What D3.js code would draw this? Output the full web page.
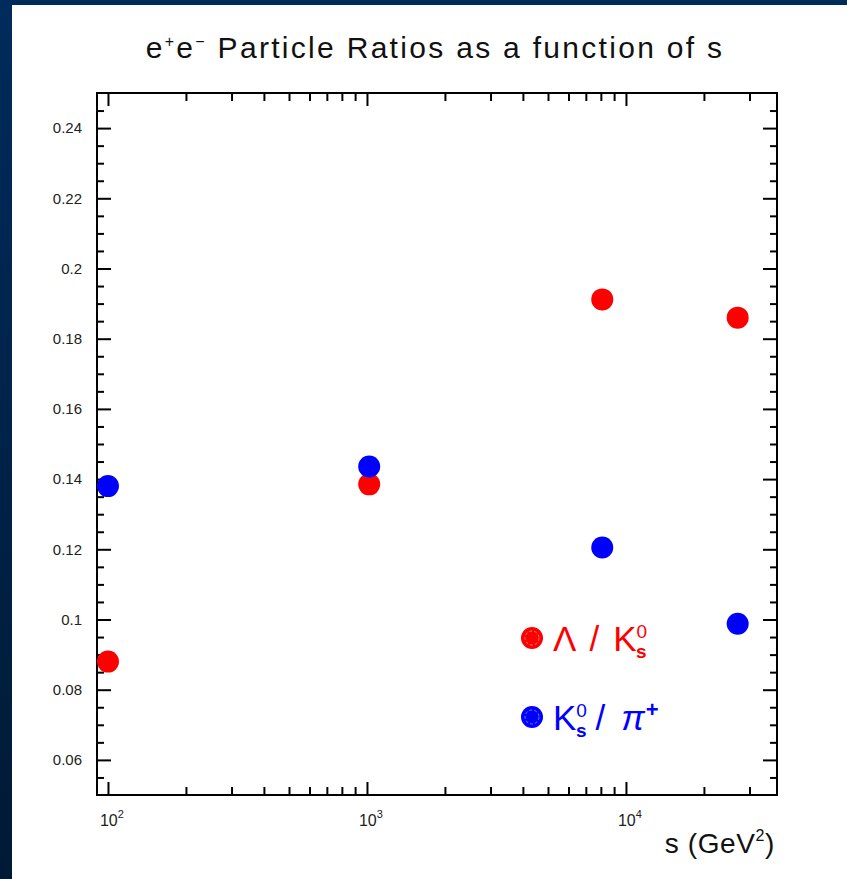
<!DOCTYPE html>
<html>
<head>
<meta charset="utf-8">
<script src="https://d3js.org/d3.v7.min.js"></script>
<style>
  body { margin: 0; background: white; }
  svg { display: block; }
</style>
</head>
<body>
<div id="bigdiv"></div>
<script>
// s values (GeV^2) and the two particle ratios
const energies = [100, 1020, 8100, 27000]
const lambdaOverK0 = [0.088, 0.1385, 0.1912, 0.186]
const k0OverPi = [0.138, 0.1436, 0.1205, 0.0988]

const yTicks = [0.06, 0.08, 0.1, 0.12, 0.14, 0.16, 0.18, 0.2, 0.22, 0.24]
const yTickLabels = ['0.06', '0.08', '0.1', '0.12', '0.14', '0.16', '0.18', '0.2', '0.22', '0.24']
const xMajor = [100, 1000, 10000]
const xMajorExp = ['2', '3', '4']

const W = 847, H = 879
const frame = { left: 97, right: 777, top: 93, bottom: 795 }
const FONT = '"Liberation Sans", Arial, sans-serif'

let svg = d3.select('div#bigdiv').append('svg')
    .attr('width', W).attr('height', H)

// dark blue slide border
let defs = svg.append('defs')
let grad = defs.append('linearGradient').attr('id', 'edgegrad')
    .attr('x1', 0).attr('y1', 0).attr('x2', 0).attr('y2', 1)
grad.append('stop').attr('offset', '0%').attr('stop-color', '#002b5c')
grad.append('stop').attr('offset', '100%').attr('stop-color', '#001a35')

svg.append('rect').attr('x', 0).attr('y', 0).attr('width', W).attr('height', H).attr('fill', 'white')
svg.append('rect').attr('x', 0).attr('y', 0).attr('width', W).attr('height', 5).attr('fill', '#002a5a')
svg.append('rect').attr('x', 0).attr('y', 0).attr('width', 12).attr('height', H).attr('fill', 'url(#edgegrad)')

let x = d3.scaleLog().domain([90.7, 38300]).range([frame.left, frame.right])
let y = d3.scaleLinear().domain([0.05, 0.25]).range([frame.bottom, frame.top])

// minor ticks
let xMinor = []
for (let d = 100; d <= 10000; d *= 10) {
    for (let m = 2; m <= 9; m++) {
        if (d * m < 38300) xMinor.push(d * m)
    }
}
let yMinor = []
for (let v = 0.055; v < 0.25; v += 0.005) {
    let r = Math.round(v * 1000) / 1000
    if (Math.round(r * 1000) % 20 !== 0) yMinor.push(r)
}

let axesg = svg.append('g').attr('id', 'axesg')

function styleAxis(g) {
    g.select('.domain').remove()
    g.selectAll('.tick line').attr('stroke', 'black').attr('stroke-width', 2)
}

// left axis
axesg.append('g').attr('transform', 'translate(' + frame.left + ',0)')
    .call(d3.axisLeft(y).tickValues(yMinor).tickSize(-7).tickFormat(''))
    .call(styleAxis)
axesg.append('g').attr('transform', 'translate(' + frame.left + ',0)')
    .call(d3.axisLeft(y).tickValues(yTicks).tickSize(-14).tickPadding(15)
        .tickFormat((d, i) => yTickLabels[i]))
    .call(styleAxis)
    .call(g => g.selectAll('.tick text')
        .style('font-size', '15px').style('font-family', FONT).attr('fill', '#222'))

// right axis
axesg.append('g').attr('transform', 'translate(' + frame.right + ',0)')
    .call(d3.axisRight(y).tickValues(yMinor).tickSize(-7).tickFormat(''))
    .call(styleAxis)
axesg.append('g').attr('transform', 'translate(' + frame.right + ',0)')
    .call(d3.axisRight(y).tickValues(yTicks).tickSize(-14).tickFormat(''))
    .call(styleAxis)

// bottom axis
axesg.append('g').attr('transform', 'translate(0,' + frame.bottom + ')')
    .call(d3.axisBottom(x).tickValues(xMinor).tickSize(-8).tickFormat(''))
    .call(styleAxis)
axesg.append('g').attr('transform', 'translate(0,' + frame.bottom + ')')
    .call(d3.axisBottom(x).tickValues(xMajor).tickSize(-13).tickFormat(''))
    .call(styleAxis)

// top axis
axesg.append('g').attr('transform', 'translate(0,' + frame.top + ')')
    .call(d3.axisTop(x).tickValues(xMinor).tickSize(-8).tickFormat(''))
    .call(styleAxis)
axesg.append('g').attr('transform', 'translate(0,' + frame.top + ')')
    .call(d3.axisTop(x).tickValues(xMajor).tickSize(-13).tickFormat(''))
    .call(styleAxis)

// x tick labels 10^n
let xlab = axesg.selectAll('text.xlab')
    .data(xMajor)
    .enter()
    .append('text')
    .attr('class', 'xlab')
    .attr('x', d => x(d) - 8)
    .attr('y', 826)
    .style('font-family', FONT)
    .style('font-size', '16px')
    .attr('fill', '#222')
xlab.append('tspan').text('10')
xlab.append('tspan').attr('dy', -8).style('font-size', '11px').text((d, i) => xMajorExp[i])

// frame
svg.append('rect')
    .attr('x', frame.left).attr('y', frame.top)
    .attr('width', frame.right - frame.left).attr('height', frame.bottom - frame.top)
    .attr('fill', 'none').attr('stroke', 'black').attr('stroke-width', 2)

// title
let title = svg.append('text')
    .attr('x', 435).attr('y', 58)
    .attr('text-anchor', 'middle')
    .style('font-family', FONT)
    .style('font-size', '30px')
    .style('letter-spacing', '2.3px')
    .attr('fill', '#111')
title.append('tspan').text('e')
title.append('tspan').attr('dy', -11).style('font-size', '16px').text('+')
title.append('tspan').attr('dy', 11).text('e')
title.append('tspan').attr('dy', -11).style('font-size', '16px').text('\u2212')
title.append('tspan').attr('dy', 11).text(' Particle Ratios as a function of s')

// axis title
let xtitle = svg.append('text')
    .attr('x', 775).attr('y', 853)
    .attr('text-anchor', 'end')
    .style('font-family', FONT)
    .style('font-size', '28px')
    .style('letter-spacing', '0.6px')
    .attr('fill', '#111')
xtitle.append('tspan').text('s (GeV')
xtitle.append('tspan').attr('dy', -12).style('font-size', '16px').text('2')
xtitle.append('tspan').attr('dy', 12).text(')')

// data points
let plotg = svg.append('g').attr('id', 'plotg')
plotg.selectAll('circle.lam')
    .data(energies)
    .enter()
    .append('circle')
    .attr('class', 'lam')
    .attr('cx', d => x(d))
    .attr('cy', (d, i) => y(lambdaOverK0[i]))
    .attr('r', 11)
    .attr('fill', '#ff0000')

plotg.selectAll('circle.kpi')
    .data(energies)
    .enter()
    .append('circle')
    .attr('class', 'kpi')
    .attr('cx', d => x(d))
    .attr('cy', (d, i) => y(k0OverPi[i]))
    .attr('r', 11)
    .attr('fill', '#0000ff')

// legend
function legendEntry(cy, color) {
    let g = svg.append('g').attr('transform', 'translate(532,' + cy + ')')
    g.append('circle').attr('r', 11).attr('fill', color)
    g.append('circle').attr('r', 7).attr('fill', 'none')
        .attr('stroke', 'white').attr('stroke-opacity', 0.45).attr('stroke-width', 1)
        .attr('stroke-dasharray', '3,2')
    return g
}
legendEntry(638, '#ff0000')
legendEntry(717, '#0000ff')

let leg1 = svg.append('text')
    .attr('x', 553).attr('y', 651)
    .style('font-family', FONT)
    .style('font-size', '35px')
    .attr('fill', '#ff0000')
leg1.append('tspan').text('\u039B')
leg1.append('tspan').attr('dx', 13).text('/')
leg1.append('tspan').attr('dx', 14).text('K')
leg1.append('tspan').attr('dx', 0).attr('dy', -13).style('font-size', '19px').text('0')
leg1.append('tspan').attr('dx', -11).attr('dy', 20).style('font-size', '19px').style('font-weight', 'bold').text('s')

let leg2 = svg.append('text')
    .attr('x', 553).attr('y', 730)
    .style('font-family', FONT)
    .style('font-size', '35px')
    .attr('fill', '#0000ff')
leg2.append('tspan').text('K')
leg2.append('tspan').attr('dx', 0).attr('dy', -13).style('font-size', '19px').text('0')
leg2.append('tspan').attr('dx', -11).attr('dy', 20).style('font-size', '19px').style('font-weight', 'bold').text('s')
leg2.append('tspan').attr('dx', 9).attr('dy', -7).text('/')
leg2.append('tspan').attr('dx', 16).style('font-style', 'italic').text('\u03C0')
leg2.append('tspan').attr('dx', 1).attr('dy', -13).style('font-size', '22px').style('font-weight', 'bold').text('+')
</script>
</body>
</html>
